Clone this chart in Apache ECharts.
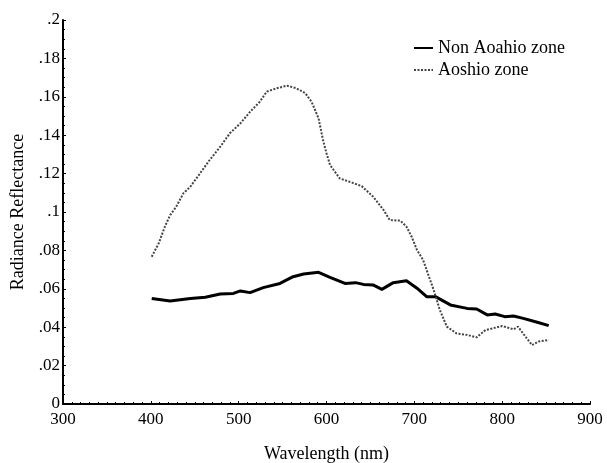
<!DOCTYPE html>
<html><head><meta charset="utf-8">
<script src="https://cdn.jsdelivr.net/npm/echarts@6/dist/echarts.min.js"></script>
<style>html,body{margin:0;padding:0;background:#fff}#c{width:607px;height:463px}</style>
</head><body><div id="c"></div>
<script>
const nonWavelength = [401,422,445,462,479,494,502,513,528,547,562,574,591,604,621,633,642,653,663,676,691,703,714,724,741,760,771,783,792,803,813,824,840,853];
const nonValues     = [0.055,0.0536,0.055,0.0556,0.0573,0.0576,0.0589,0.058,0.0606,0.0628,0.0663,0.0677,0.0686,0.066,0.0628,0.0632,0.0623,0.062,0.0597,0.0632,0.0642,0.0603,0.0559,0.0559,0.0516,0.0498,0.0495,0.0464,0.0469,0.0455,0.0458,0.0446,0.0426,0.0408];
const aoWavelength = [401,409,416,422,429,437,445,456,467,479,490,502,513,524,532,543,555,566,576,583,591,596,600,604,615,629,640,653,665,672,684,691,697,703,710,722,729,737,748,760,771,781,800,813,818,828,834,841,853];
const aoValues     = [0.0767,0.0837,0.0924,0.0984,0.1028,0.1097,0.1132,0.1201,0.1271,0.134,0.141,0.1462,0.1522,0.1574,0.1627,0.1644,0.1658,0.1644,0.1618,0.1574,0.1487,0.1375,0.1306,0.1245,0.1175,0.1153,0.1135,0.108,0.101,0.0958,0.0955,0.0924,0.0871,0.0802,0.075,0.0594,0.049,0.0403,0.0368,0.036,0.0347,0.0385,0.0406,0.0389,0.0403,0.0342,0.0307,0.0325,0.0333];
const seriesNames = ['Non Aoahio zone','Aoshio zone'];
const xTitle = 'Wavelength (nm)';
const yTitle = 'Radiance Reflectance';

const font = 'Liberation Serif';
const chart = echarts.init(document.getElementById('c'), null, {renderer:'canvas'});
chart.setOption({
  animation:false,
  backgroundColor:'#fff',
  grid:{left:63,right:17,top:20,bottom:59,outerBoundsMode:'none',containLabel:false},
  legend:{
    orient:'vertical', left:413, top:39, padding:0, itemGap:4, itemWidth:19, itemHeight:14,
    itemStyle:{opacity:0},
    textStyle:{fontFamily:font,fontSize:18,color:'#000'},
    data:seriesNames
  },
  xAxis:{
    type:'value', min:300, max:900, interval:100,
    name:xTitle, nameLocation:'middle', nameGap:41,
    nameTextStyle:{fontFamily:font,fontSize:18,color:'#000'},
    axisLine:{lineStyle:{color:'#000',width:2}},
    axisTick:{show:true,inside:true,length:3,lineStyle:{color:'#000'}},
    minorTick:{show:true,splitNumber:10,length:2,lineStyle:{color:'#000'}},
    axisLabel:{fontFamily:font,fontSize:17,color:'#000',margin:7},
    splitLine:{show:false}
  },
  yAxis:{
    type:'value', min:0, max:0.2, interval:0.02,
    name:yTitle, nameLocation:'middle', nameGap:36, nameRotate:90,
    nameTextStyle:{fontFamily:font,fontSize:18,color:'#000'},
    axisLine:{show:true,lineStyle:{color:'#000',width:2}},
    axisTick:{show:true,inside:true,length:3,lineStyle:{color:'#000'}},
    minorTick:{show:true,splitNumber:4,length:2,lineStyle:{color:'#000'}},
    axisLabel:{fontFamily:font,fontSize:17,color:'#000',margin:3,
      formatter:function(v){ if(v===0) return '0'; return String(+v.toFixed(2)).replace(/^0/,''); }},
    splitLine:{show:false}
  },
  series:[
    {name:seriesNames[0], type:'line', symbol:'none', smooth:false,
     data:nonWavelength.map((x,i)=>[x,nonValues[i]]),
     lineStyle:{color:'#000',width:3}, itemStyle:{color:'#000'}},
    {name:seriesNames[1], type:'line', symbol:'none', smooth:false,
     data:aoWavelength.map((x,i)=>[x,aoValues[i]]),
     lineStyle:{color:'#444',width:2,type:[2,1.5]}, itemStyle:{color:'#666'}}
  ]
});
</script></body></html>
